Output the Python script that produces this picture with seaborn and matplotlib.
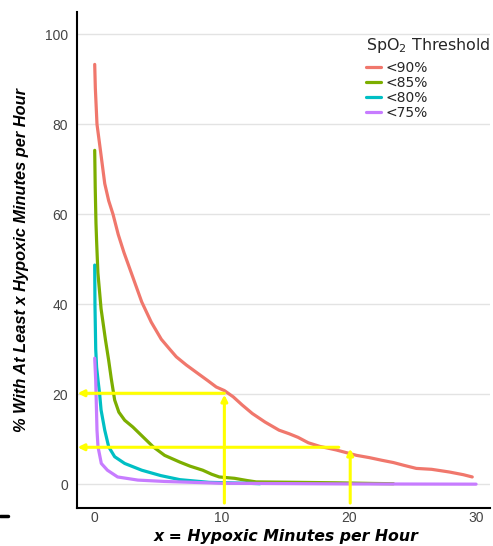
import matplotlib
matplotlib.use("Agg")
import matplotlib.pyplot as plt
import seaborn as sns
import pandas as pd
from matplotlib.lines import Line2D

# Share of patients with at least x hypoxic minutes per hour, by SpO2 threshold
thresholds = ["<90%", "<85%", "<80%", "<75%"]

x_90 = [0, 0.05, 0.18, 0.45, 0.79, 1.1, 1.44, 1.85, 2.3, 3.0, 3.7, 4.45, 5.24,
        5.9, 6.42, 7.2, 8.12, 8.9, 9.56, 10.2, 10.9, 11.6, 12.4, 13.4, 14.5,
        15.3, 16.0, 16.8, 17.7, 19.0, 20.6, 21.6, 22.6, 23.5, 24.3, 25.3, 26.5,
        27.9, 29.0, 29.7]
y_90 = [93.3, 88, 80, 74.2, 66.8, 63, 60, 55.5, 51.5, 46, 40.5, 36, 32.2,
        30, 28.3, 26.5, 24.6, 23, 21.6, 20.8, 19.4, 17.6, 15.7, 13.8, 12,
        11.2, 10.4, 9.2, 8.4, 7.6, 6.4, 5.9, 5.3, 4.8, 4.2, 3.5, 3.3,
        2.7, 2.1, 1.6]

x_85 = [0, 0.04, 0.1, 0.15, 0.25, 0.5, 0.85, 1.1, 1.3, 1.57, 1.9, 2.36, 3.0,
        3.8, 4.6, 5.5, 6.7, 7.5, 8.5, 9.2, 9.8, 11.0, 12.0, 12.7, 16, 19, 22, 23.5]
y_85 = [74.2, 66, 58, 54, 47, 39, 32, 27.5, 23.5, 18.7, 16, 14.2, 12.7,
        10.5, 8.3, 6.4, 4.9, 4.0, 3.1, 2.2, 1.6, 1.3, 0.8, 0.5, 0.4, 0.3, 0.15, 0.1]

x_80 = [0, 0.02, 0.08, 0.15, 0.26, 0.39, 0.5, 0.79, 1.1, 1.57, 2.36, 3.7, 5.2,
        6.7, 9, 12, 13]
y_80 = [48.7, 40, 30, 26, 23.1, 20, 16.5, 12, 8.3, 6.1, 4.6, 3.1, 1.9,
        1.0, 0.4, 0.2, 0.1]

x_75 = [0, 0.08, 0.18, 0.26, 0.52, 1.0, 1.8, 3.4, 5.5, 10, 20, 30]
y_75 = [28, 23, 12, 8.3, 4.6, 3.1, 1.6, 0.9, 0.6, 0.2, 0.05, 0]

# Reading guides: 20% reach 10 min/h at <90%, 8% reach 20 min/h
guide_x = [10.2, 20.1]
guide_y = [20.2, 8.2]
guide_hstop = [10.2, 19.2]

colors = ["#F0776C", "#7CAE00", "#00BFC4", "#C77CFF"]

frames = []
for lab, xs, ys in zip(thresholds, [x_90, x_85, x_80, x_75], [y_90, y_85, y_80, y_75]):
    frames.append(pd.DataFrame({"x": xs, "y": ys, "thr": lab}))
df = pd.concat(frames, ignore_index=True)

sns.set_theme(style="white")
plt.rcParams["font.family"] = ["Liberation Sans", "DejaVu Sans"]
plt.rcParams["mathtext.fontset"] = "custom"
plt.rcParams["mathtext.rm"] = "DejaVu Sans"

fig = plt.figure(figsize=(4.93, 5.46), dpi=100)
ax = fig.add_axes([0.156, 0.0696, 0.838, 0.908])

ax.set_xlim(-1.4, 31.1)
ax.set_ylim(-5.3, 104.9)
ax.set_yticks([0, 20, 40, 60, 80, 100])
ax.set_xticks([0, 10, 20, 30])
ax.yaxis.grid(True, color="#E3E3E3", lw=1.0)
ax.xaxis.grid(False)
ax.set_axisbelow(True)

sns.lineplot(data=df, x="x", y="y", hue="thr", hue_order=thresholds,
             palette=colors, sort=False, estimator=None, units="thr",
             lw=2.3, ax=ax, legend=False)

yel = "#FFFF00"
for gx, gy, hs in zip(guide_x, guide_y, guide_hstop):
    ax.annotate("", xy=(-1.35, gy), xytext=(hs, gy),
                arrowprops=dict(arrowstyle="-|>", color=yel, lw=2.2,
                                mutation_scale=9, shrinkA=0, shrinkB=0))
    ax.annotate("", xy=(gx, gy - 0.3), xytext=(gx, -4.2),
                arrowprops=dict(arrowstyle="-|>", color=yel, lw=2.2,
                                mutation_scale=9, shrinkA=0, shrinkB=0))

for s in ["top", "right"]:
    ax.spines[s].set_visible(False)
for s in ["left", "bottom"]:
    ax.spines[s].set_color("black")
    ax.spines[s].set_linewidth(1.5)

ax.tick_params(axis="both", length=0, labelsize=10, colors="#444444")
ax.tick_params(axis="y", pad=6.5)
ax.tick_params(axis="x", pad=2.5)

ax.set_xlabel("x = Hypoxic Minutes per Hour", fontsize=11.3, fontweight="bold",
              fontstyle="italic", color="black", family="DejaVu Sans")
ax.xaxis.set_label_coords(0.506, -0.043)
ax.set_ylabel("% With At Least x Hypoxic Minutes per Hour", fontsize=11.8,
              fontweight="bold", fontstyle="italic", color="black")
ax.yaxis.set_label_coords(-0.117, 0.5)

handles = [Line2D([], [], color=c, lw=2.3) for c in colors]
leg = ax.legend(handles, thresholds, title=r"SpO$_{\mathregular{2}}$ Threshold",
                loc="upper left", bbox_to_anchor=(0.7, 0.952), frameon=False,
                prop={"family": "DejaVu Sans", "size": 10},
                handlelength=1.08, handletextpad=0.3, labelspacing=0.06,
                borderpad=0.0, borderaxespad=0.0)
leg.get_title().set_fontfamily("DejaVu Sans")
leg.get_title().set_fontsize(11.4)
leg._legend_box.align = "left"
leg._legend_box.sep = 4.5

fig.add_artist(Line2D([0.0, 0.016], [0.055, 0.055], color="black", lw=2.5,
                      transform=fig.transFigure))

fig.savefig("out.png", dpi=100)
